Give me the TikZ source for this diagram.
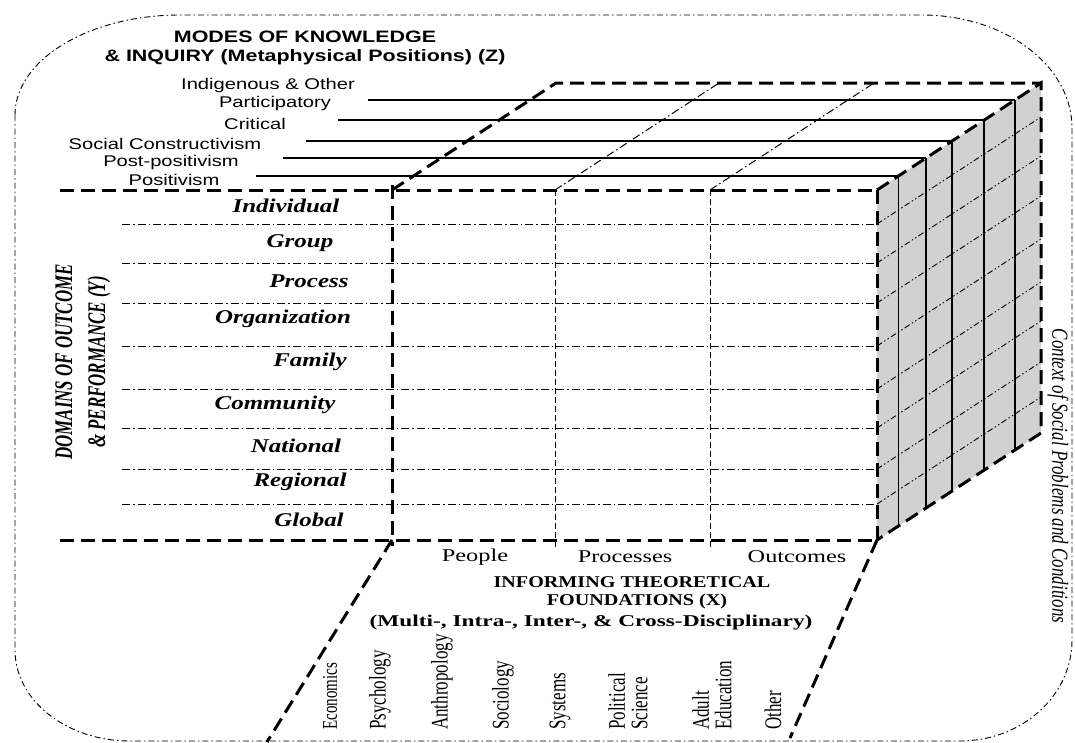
\documentclass[tikz,border=0pt]{standalone}
\usepackage{fontspec}
\setmainfont{Liberation Serif}
\newfontfamily\arialf{Liberation Sans}
\usetikzlibrary{calc}
\begin{document}
\begin{tikzpicture}[x=1pt,y=-1pt,
  heavydash/.style={line width=3pt, dash pattern=on 14pt off 7pt},
  lightdash/.style={line width=1pt, dash pattern=on 6pt off 3pt},
  rowline/.style={line width=1pt, dash pattern=on 8pt off 3pt on 1.5pt off 3pt},
  sideline/.style={line width=0.9pt, dash pattern=on 6pt off 2.5pt on 1.5pt off 2.5pt on 1.5pt off 2.5pt},
  framedash/.style={line width=0.9pt, dash pattern=on 6pt off 3pt on 1.5pt off 3pt},
  zline/.style={line width=1.2pt},
  sidevert/.style={line width=1.9pt},
  headZ/.style={font=\arialf\bfseries\fontsize{16.5}{19}\selectfont, xscale=1.3, align=center, inner sep=0pt},
  labZ/.style={font=\arialf\fontsize{15.5}{18}\selectfont, xscale=1.3, inner sep=0pt},
  labY/.style={font=\bfseries\itshape\fontsize{19.5}{22}\selectfont, xscale=1.28, inner sep=0pt},
  labX/.style={font=\fontsize{18}{20}\selectfont, xscale=1.35, inner sep=0pt},
  headX/.style={font=\bfseries\fontsize{16.5}{19}\selectfont, xscale=1.22, inner sep=0pt},
  headY/.style={font=\bfseries\itshape\fontsize{16.9}{22}\selectfont, xscale=1.5, rotate=90, align=center, inner sep=0pt},
  disc/.style={font=\fontsize{17}{16}\selectfont, xscale=1.4, rotate=90, anchor=west, align=left, inner sep=0pt},
  ctx/.style={font=\itshape\fontsize{17}{20}\selectfont, xscale=1.35, rotate=-90, inner sep=0pt}
]
\useasboundingbox (0,0) rectangle (1075,742);

% outer frame with elliptical corners
\draw[framedash]
  (15,115) .. controls ($(15,115)!0.5523!(15,15)$) and ($(180,15)!0.5523!(15,15)$) .. (180,15)
  -- (922,15) .. controls ($(922,15)!0.5523!(1072,15)$) and ($(1072,128)!0.5523!(1072,15)$) .. (1072,128)
  -- (1072,640) .. controls ($(1072,640)!0.5523!(1072,741)$) and ($(960,741)!0.5523!(1072,741)$) .. (960,741)
  -- (130,741) .. controls ($(130,741)!0.5523!(15,741)$) and ($(15,650)!0.5523!(15,741)$) .. (15,650)
  -- cycle;

% cube corners
\coordinate (F1) at (392,190);
\coordinate (F2) at (877,190);
\coordinate (F3) at (877,540);
\coordinate (F4) at (392,540);
\coordinate (B1) at (556,83);
\coordinate (B2) at (1041,83);
\coordinate (B3) at (1041,433);

% shaded side face
\fill[black!18] (F2) -- (B2) -- (B3) -- (F3) -- cycle;

% Z slabs: lines across the top face and verticals on the side
\foreach \y/\xs in {100/368,120/338,141/306,158/283,176/256}{
  \pgfmathsetmacro{\xe}{877+164*(190-\y)/107}
  \draw[zline] (\xs,\y) -- (\xe,\y);
  \draw[sidevert] (\xe,\y) -- (\xe,\y+350);
}

% Y rows: front face and side face
\foreach \r in {224,263,303,346,389,428,469,504}{
  \draw[rowline] (122,\r) -- (877,\r);
  \draw[sideline] (877,\r) -- (1041,\r-107);
}

% X columns
\foreach \c in {555,710}{
  \draw[rowline] (\c,190) -- (\c+164,83);
  \draw[lightdash] (\c,190) -- (\c,549);
}

% heavy edges
\draw[heavydash] (60,190) -- (F2);
\draw[heavydash] (60,540) -- (F3);
\draw[heavydash] (392,185) -- (392,546);
\draw[heavydash] (F2) -- (F3);
\draw[heavydash] (F1) -- (B1) -- (B2);
\draw[heavydash] (F2) -- (B2) -- (B3) -- (F3);
\draw[heavydash] (F4) -- (267,742);
\draw[heavydash] (F3) -- (790,738);

% Z axis title and labels
\node[headZ] (zt) at (305,48) {MODES OF KNOWLEDGE\\\& INQUIRY (Metaphysical Positions) (Z)};
\node[labZ] (z6) at (268,85) {Indigenous \& Other};
\node[labZ] (z5) at (275,103) {Participatory};
\node[labZ] (z4) at (255,124) {Critical};
\node[labZ] (z3) at (165,144) {Social Constructivism};
\node[labZ] (z2) at (171,162) {Post-positivism};
\node[labZ] (z1) at (174,180) {Positivism};

% Y axis title and labels
\node[headY] (yt) at (83,362) {DOMAINS OF OUTCOME\\\& PERFORMANCE (Y)};
\node[labY] (y1) at (286,206) {Individual};
\node[labY] (y2) at (300,243) {Group};
\node[labY] (y3) at (309,281) {Process};
\node[labY] (y4) at (283,319) {Organization};
\node[labY] (y5) at (310,362) {Family};
\node[labY] (y6) at (275,405) {Community};
\node[labY] (y7) at (296,446) {National};
\node[labY] (y8) at (300,482) {Regional};
\node[labY] (y9) at (309,520) {Global};

% X axis labels and title
\node[labX] (x1) at (475,557) {People};
\node[labX] (x2) at (625,557) {Processes};
\node[labX] (x3) at (797,557) {Outcomes};
\node[headX] (xt1) at (632,582) {INFORMING THEORETICAL};
\node[headX] (xt2) at (637,602) {FOUNDATIONS (X)};
\node[headX, xscale=1.16] (xt3) at (591,623) {(Multi-, Intra-, Inter-, \& Cross-Disciplinary)};

% disciplines
\node[disc, font=\fontsize{15}{16}\selectfont] (d1) at (330,730) {Economics};
\node[disc] (d2) at (380,730) {Psychology};
\node[disc] (d3) at (442,730) {Anthropology};
\node[disc] (d4) at (503,730) {Sociology};
\node[disc] (d5) at (560,730) {Systems};
\node[disc] (d6) at (628,730) {Political\\Science};
\node[disc] (d7) at (712,730) {Adult\\Education};
\node[disc] (d8) at (773,730) {Other};

% context label
\node[ctx] (cx) at (1058,476) {Context of Social Problems and Conditions};
\end{tikzpicture}
\end{document}
